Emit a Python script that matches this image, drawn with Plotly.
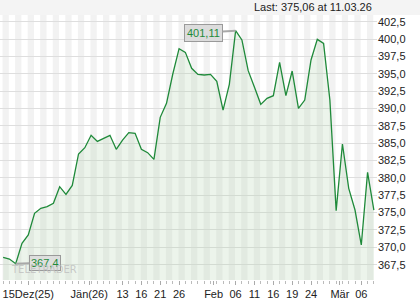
import plotly.graph_objects as go

# closing values (trading days, 60 points)
values = [368.55, 368.31, 367.64, 370.57, 371.77, 374.89, 375.61, 375.85, 376.33, 378.73,
          377.63, 378.92, 383.44, 384.35, 386.13, 385.26, 385.69, 386.13, 384.11, 385.45,
          386.51, 386.41, 384.11, 383.63, 382.67, 388.72, 390.73, 394.96, 398.61, 398.08,
          395.78, 394.91, 394.82, 394.91, 393.90, 389.77, 393.47, 401.20, 399.86, 395.44,
          393.04, 390.59, 391.45, 391.84, 396.64, 391.84, 395.39, 390.01, 391.21, 396.98,
          399.95, 399.38, 391.21, 375.28, 384.88, 378.49, 375.37, 370.33, 380.80, 375.37]
idx = list(range(len(values)))

x_tick_pos = [4, 13.7, 19, 22, 25, 28, 33.5, 37, 40, 43, 46, 49, 53.6, 57]
x_tick_text = ["15Dez(25)", "Jän(26)", "13", "16", "21", "26", "Feb", "06", "11", "16",
               "19", "24", "Mär", "06"]
y_tick_vals = [367.5, 370.0, 372.5, 375.0, 377.5, 380.0, 382.5, 385.0, 387.5, 390.0,
               392.5, 395.0, 397.5, 400.0, 402.5]
y_tick_text = [f"{v:.1f}".replace(".", ",") for v in y_tick_vals]

max_label = "401,11"
min_label = "367,4"
last_text = "Last: 375,06 at 11.03.26"

imax = values.index(max(values))
imin = values.index(min(values))

FONT = "Liberation Sans, Arial, sans-serif"

fig = go.Figure()
fig.add_trace(go.Scatter(
    x=idx, y=values, mode="lines",
    line=dict(color="#1f8a3a", width=1.3),
    fill="tozeroy", fillcolor="rgba(180,210,175,0.25)",
    hoverinfo="skip", showlegend=False,
))

shapes = []
for i in range(0, len(values), 2):
    shapes.append(dict(type="rect", xref="x", yref="paper", x0=i - 0.1, x1=i + 0.9,
                       y0=0, y1=1, fillcolor="#f2f2f2", line_width=0, layer="below"))
# top bar
shapes.append(dict(type="rect", xref="paper", yref="paper", x0=0, x1=1.12,
                   y0=1.0, y1=1.06, fillcolor="#f4f4f4", line_width=0, layer="below"))

annotations = [
    dict(xref="paper", yref="paper", x=0.993, y=1.03, xanchor="right", yanchor="middle",
         text=last_text, showarrow=False, font=dict(family=FONT, size=11, color="#222")),
    dict(x=imax, y=values[imax], xref="x", yref="y", text=max_label, showarrow=True,
         arrowhead=0, arrowwidth=2, arrowcolor="#a8a8a8", ax=-32, ay=2,
         bgcolor="#dcdcdc", bordercolor="#9a9a9a", borderwidth=1, borderpad=2,
         font=dict(family=FONT, size=11, color="#1f8a3a")),
    dict(x=imin, y=values[imin], xref="x", yref="y", text=min_label, showarrow=True,
         arrowhead=0, arrowwidth=2, arrowcolor="#a8a8a8", ax=29, ay=-1,
         bgcolor="rgba(220,220,220,0.85)", bordercolor="#9a9a9a", borderwidth=1, borderpad=1,
         font=dict(family=FONT, size=11, color="#1f8a3a")),
    dict(xref="paper", yref="paper", x=0.025, y=0.01, xanchor="left", yanchor="bottom",
         text="TELETRADER", showarrow=False,
         font=dict(family="DejaVu Sans, sans-serif", size=10, color="rgba(190,190,190,0.8)")),
]

fig.update_layout(
    width=420, height=300,
    margin=dict(l=0, r=43, t=15, b=20),
    paper_bgcolor="white", plot_bgcolor="white",
    shapes=shapes, annotations=annotations,
    xaxis=dict(range=[-0.5, 59.5], tickmode="array", tickvals=x_tick_pos, ticktext=x_tick_text,
               showgrid=False, zeroline=False, showline=False,
               ticks="outside", ticklen=4, tickcolor="#aaaaaa",
               minor=dict(tickmode="linear", tick0=0, dtick=1, ticks="outside", ticklen=3,
                          tickcolor="#bbbbbb"),
               tickfont=dict(family=FONT, size=11, color="#222")),
    yaxis=dict(range=[365.29, 403.46], side="right", tickmode="array", tickvals=y_tick_vals,
               ticktext=y_tick_text, showgrid=True, gridcolor="#dedede", gridwidth=1,
               zeroline=False, showline=False, ticks="",
               tickfont=dict(family=FONT, size=11, color="#222")),
)

fig.write_html("out.html")
